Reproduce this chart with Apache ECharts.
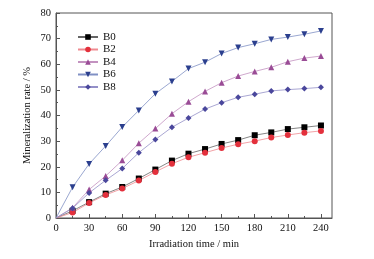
<!DOCTYPE html>
<html>
<head>
<meta charset="utf-8">
<script src="https://cdn.jsdelivr.net/npm/echarts@6/dist/echarts.min.js"></script>
<style>
  html, body { margin: 0; padding: 0; background: #fff; }
  #chart { width: 374px; height: 259px; }
</style>
</head>
<body>
<div id="chart"></div>
<script>
// irradiation time, min
const times = [0, 15, 30, 45, 60, 75, 90, 105, 120, 135, 150, 165, 180, 195, 210, 225, 240]
// mineralization rate, %
const b0 = [0, 2.8, 6.2, 9.5, 12.1, 15.4, 18.9, 22.4, 25.1, 26.9, 28.9, 30.4, 32.3, 33.4, 34.7, 35.4, 36.1]
const b2 = [0, 2.1, 5.9, 9.0, 11.5, 14.6, 18.0, 21.2, 23.7, 25.5, 27.3, 28.8, 30.0, 31.4, 32.4, 33.3, 34.0]
const b4 = [0, 4.0, 11.1, 16.4, 22.5, 29.2, 34.9, 40.7, 45.4, 49.4, 52.8, 55.4, 57.2, 58.8, 61.0, 62.4, 63.2]
const b6 = [0, 12.0, 21.1, 28.1, 35.5, 42.0, 48.5, 53.3, 58.3, 60.8, 64.2, 66.5, 68.0, 69.7, 70.6, 71.7, 73.0]
const b8 = [0, 3.8, 9.8, 14.7, 19.3, 25.5, 30.6, 35.4, 39.0, 42.5, 45.0, 47.1, 48.3, 49.6, 50.1, 50.5, 51.0]
const xTicks = [0, 30, 60, 90, 120, 150, 180, 210, 240]

const font = "'Liberation Serif', 'Times New Roman', serif"
const axisColor = '#555'

function makeSeries(name, values, symbol, color, lineColor, rotate) {
  return {
    name: name,
    type: 'line',
    symbol: symbol,
    symbolSize: 6,
    symbolRotate: rotate || 0,
    itemStyle: { color: color },
    lineStyle: { color: lineColor, width: 0.8 },
    animation: false,
    data: times.map((t, i) => {
      if (i === 0) {
        return { value: [t, values[i]], symbol: 'none' }
      }
      return [t, values[i]]
    })
  }
}

const chart = echarts.init(document.getElementById('chart'))
chart.setOption({
  backgroundColor: '#fff',
  grid: {
    left: 56,
    right: 42,
    top: 13,
    bottom: 41,
    show: true,
    borderColor: axisColor,
    borderWidth: 1
  },
  legend: {
    orient: 'vertical',
    left: 72,
    top: 26,
    itemWidth: 20,
    itemHeight: 7,
    itemGap: 0.5,
    textStyle: { fontFamily: font, fontSize: 11, color: '#111', lineHeight: 12 },
    data: ['B0', 'B2', 'B4', 'B6', 'B8']
  },
  xAxis: {
    type: 'value',
    min: 0,
    max: 250,
    interval: 30,
    name: 'Irradiation time / min',
    nameLocation: 'middle',
    nameGap: 20,
    nameTextStyle: { fontFamily: font, fontSize: 10.5, color: '#111' },
    axisLine: { lineStyle: { color: axisColor } },
    axisTick: { inside: true, length: 4, customValues: xTicks, lineStyle: { color: axisColor } },
    minorTick: { show: true, splitNumber: 2, length: 2, lineStyle: { color: axisColor } },
    axisLabel: { customValues: xTicks, fontFamily: font, fontSize: 10.5, color: '#111', margin: 5 },
    splitLine: { show: false }
  },
  yAxis: {
    type: 'value',
    min: 0,
    max: 80,
    interval: 10,
    name: 'Mineralization rate / %',
    nameLocation: 'middle',
    nameGap: 23,
    nameMoveOverlap: false,
    nameTextStyle: { fontFamily: font, fontSize: 10.5, color: '#111' },
    axisLine: { show: true, lineStyle: { color: axisColor } },
    axisTick: { show: true, inside: true, length: 4, lineStyle: { color: axisColor } },
    minorTick: { show: true, splitNumber: 2, length: 2, lineStyle: { color: axisColor } },
    axisLabel: { fontFamily: font, fontSize: 10.5, color: '#111', margin: 5 },
    splitLine: { show: false }
  },
  series: [
    makeSeries('B0', b0, 'rect', '#000000', '#666666'),
    makeSeries('B2', b2, 'circle', '#e3303c', '#ef8a90'),
    makeSeries('B4', b4, 'triangle', '#9a4c96', '#c392c0'),
    makeSeries('B6', b6, 'triangle', '#2b3f8e', '#8090c4', 180),
    makeSeries('B8', b8, 'diamond', '#4a479c', '#9490c8')
  ]
})
</script>
</body>
</html>
